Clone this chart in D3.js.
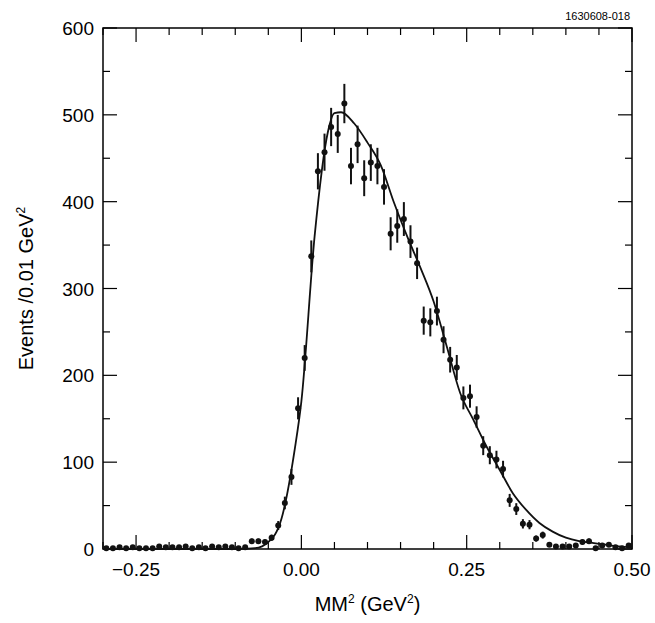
<!DOCTYPE html>
<html><head><meta charset="utf-8">
<script src="https://d3js.org/d3.v7.min.js"></script>
<style>body{margin:0;background:#fff}text{font-family:"Liberation Sans",Arial,sans-serif}</style>
</head><body><div id="chart"></div>
<script>
// bin centres are -0.295 + 0.01*i
const binStart = -0.295, binWidth = 0.01;
const counts = [1,1,2,1,2,1,1,1,3,2,2,2,3,1,2,1,3,2,3,2,1,2,
  9,9,8,13,27,53,83,162,220,337,435,457,486,478,513,441,466,427,445,441,417,363,372,380,354,329,263,261,274,
  241,218,209,174,176,152,119,108,103,92,56,46,29,28,12,16,5,3,3,3,4,8,9,1,4,5,2,1,4];
const fitX = [-0.30,-0.10,-0.07,-0.05,-0.03,-0.01,0.00,0.02,0.04,0.05,0.06,0.08,0.10,0.12,0.14,0.16,0.18,0.20,0.22,0.24,0.26,0.28,0.30,0.32,0.34,0.36,0.38,0.40,0.42,0.44,0.46,0.48,0.50];
const fitY = [0,0,1,8,35,115,170,360,480,502,503,490,468,442,399,360,324,285,233,180,149,118,91,64,45,30,20,13,9,7,5,3,2];
const xTicks = [-0.25,0,0.25,0.5];
const yTicks = [0,100,200,300,400,500,600];

const W=655,H=623,m={l:103,r:23,t:28,b:74};
const svg=d3.select("#chart").append("svg").attr("width",W).attr("height",H);
const x=d3.scaleLinear().domain([-0.3,0.5]).range([m.l,W-m.r]);
const y=d3.scaleLinear().domain([0,600]).range([H-m.b,m.t]);

// frame
svg.append("rect").attr("x",x(-0.3)).attr("y",y(600)).attr("width",x(0.5)-x(-0.3)).attr("height",y(0)-y(600))
  .attr("fill","none").attr("stroke","#000").attr("stroke-width",1.5);

const g=svg.append("g").attr("stroke","#000").attr("stroke-width",1.2);
d3.range(-0.3,0.5001,0.05).forEach(v=>{
  const major=Math.abs(Math.round(v*100)%25)<0.5, len=major?14:7;
  g.append("line").attr("x1",x(v)).attr("x2",x(v)).attr("y1",y(0)).attr("y2",y(0)-len);
  g.append("line").attr("x1",x(v)).attr("x2",x(v)).attr("y1",y(600)).attr("y2",y(600)+len);
});
d3.range(0,601,50).forEach(v=>{
  const len=v%100===0?14:7;
  g.append("line").attr("y1",y(v)).attr("y2",y(v)).attr("x1",x(-0.3)).attr("x2",x(-0.3)+len);
  g.append("line").attr("y1",y(v)).attr("y2",y(v)).attr("x1",x(0.5)).attr("x2",x(0.5)-len);
});

svg.append("g").selectAll("text").data(xTicks).join("text")
  .attr("x",d=>x(d)).attr("y",y(0)+27).attr("text-anchor","middle").attr("font-size",19)
  .text(d=>d<0?"\u2212"+Math.abs(d).toFixed(2):d.toFixed(2));
svg.append("g").selectAll("text").data(yTicks).join("text")
  .attr("x",x(-0.3)-9).attr("y",d=>y(d)+7).attr("text-anchor","end").attr("font-size",19).text(d=>d);

// fit curve
svg.append("path").datum(fitX.map((v,i)=>[v,fitY[i]]))
  .attr("d",d3.line().x(d=>x(d[0])).y(d=>y(d[1])).curve(d3.curveMonotoneX))
  .attr("fill","none").attr("stroke","#111").attr("stroke-width",1.8);

// data points
const pts=svg.append("g").selectAll("g").data(counts).join("g");
pts.append("line").attr("x1",(d,i)=>x(binStart+i*binWidth)).attr("x2",(d,i)=>x(binStart+i*binWidth))
  .attr("y1",d=>y(d+Math.sqrt(d))).attr("y2",d=>y(Math.max(0,d-Math.sqrt(d))))
  .attr("stroke","#111").attr("stroke-width",2);
pts.append("circle").attr("cx",(d,i)=>x(binStart+i*binWidth)).attr("cy",d=>y(d)).attr("r",3).attr("fill","#111");

svg.append("text").attr("x",x(0.1)).attr("y",H-12).attr("text-anchor","middle").attr("font-size",20)
  .html('MM<tspan font-size="12" dy="-8">2</tspan><tspan dy="8"> (GeV</tspan><tspan font-size="12" dy="-8">2</tspan><tspan dy="8">)</tspan>');
svg.append("text").attr("transform",`translate(33,${y(300)}) rotate(-90)`).attr("text-anchor","middle").attr("font-size",20)
  .html('Events /0.01 GeV<tspan font-size="12" dy="-8">2</tspan>');
svg.append("text").attr("x",x(0.5)-2).attr("y",20).attr("text-anchor","end").attr("font-size",11).text("1630608-018");
</script></body></html>
